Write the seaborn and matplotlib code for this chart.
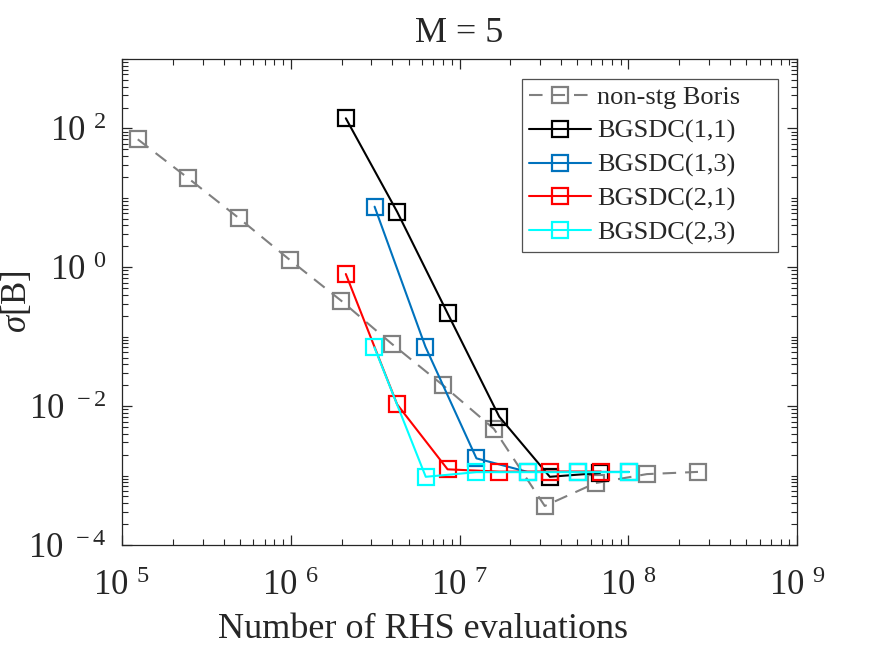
import matplotlib
matplotlib.use("Agg")
import matplotlib.pyplot as plt
import seaborn as sns
import numpy as np
from matplotlib.ticker import LogLocator, FuncFormatter, NullFormatter, FixedLocator

# ---- data ----
boris_x = [1.24e5, 2.46e5, 4.93e5, 9.9e5, 1.99e6, 3.98e6, 7.98e6, 1.6e7, 3.2e7, 6.4e7, 1.29e8, 2.59e8]
boris_y = [69.7, 19.3, 5.1, 1.27, 0.33, 0.0785, 0.020, 0.0047, 3.65e-4, 7.8e-4, 1.05e-3, 1.13e-3]

b11_x = [2.12e6, 4.27e6, 8.5e6, 1.72e7, 3.43e7, 6.8e7]
b11_y = [140.0, 6.3, 0.217, 7.05e-3, 9.6e-4, 1.09e-3]

b13_x = [3.14e6, 6.28e6, 1.26e7, 2.53e7, 5.06e7, 1.01e8]
b13_y = [7.46, 0.0718, 1.77e-3, 1.13e-3, 1.13e-3, 1.13e-3]

b21_x = [2.12e6, 4.27e6, 8.5e6, 1.72e7, 3.43e7, 6.9e7]
b21_y = [0.80, 0.0106, 1.23e-3, 1.14e-3, 1.14e-3, 1.14e-3]

b23_x = [3.13e6, 6.31e6, 1.26e7, 2.53e7, 5.06e7, 1.01e8]
b23_y = [0.0703, 9.6e-4, 1.12e-3, 1.12e-3, 1.12e-3, 1.12e-3]

series_labels = ["non-stg Boris", "BGSDC(1,1)", "BGSDC(1,3)", "BGSDC(2,1)", "BGSDC(2,3)"]
series_colors = ["#808080", "#000000", "#0072BD", "#FF0000", "#00FFFF"]

x_ticks = [1e5, 1e6, 1e7, 1e8, 1e9]
y_ticks = [1e-4, 1e-2, 1e0, 1e2]

# ---- style ----
sns.set_style("ticks")
plt.rcParams["font.family"] = ["Liberation Serif", "DejaVu Serif"]
plt.rcParams["mathtext.fontset"] = "custom"
plt.rcParams["mathtext.rm"] = "Liberation Serif"
plt.rcParams["mathtext.it"] = "Liberation Serif:italic"
plt.rcParams["mathtext.bf"] = "Liberation Serif:bold"

W, H = 875, 657
L, R, T, B = 122, 797, 59, 545
fig = plt.figure(figsize=(W / 100, H / 100), dpi=100)
ax = fig.add_axes([L / W, 1 - B / H, (R - L) / W, (B - T) / H])

data = [(boris_x, boris_y), (b11_x, b11_y), (b13_x, b13_y), (b21_x, b21_y), (b23_x, b23_y)]
for i, ((xs, ys), lab, col) in enumerate(zip(data, series_labels, series_colors)):
    ls = (0, (6.5, 4.3)) if i == 0 else "-"
    sns.lineplot(x=xs, y=ys, ax=ax, color=col, label=lab, linestyle=ls,
                 linewidth=1.5, marker="s", markersize=12,
                 markerfacecolor="none", markeredgecolor=col,
                 markeredgewidth=1.6, estimator=None, sort=False)

ax.set_xscale("log")
ax.set_yscale("log")
ax.set_xlim(1e5, 1e9)
ax.set_ylim(1e-4, 1e3)

def fmt(v, pos):
    e = int(round(np.log10(v)))
    return r"$\mathregular{10^{\,\ %d}}$" % e

ax.xaxis.set_major_locator(FixedLocator(x_ticks))
ax.xaxis.set_minor_locator(LogLocator(base=10, subs=np.arange(2, 10), numticks=50))
ax.xaxis.set_major_formatter(FuncFormatter(fmt))
ax.xaxis.set_minor_formatter(NullFormatter())
ax.yaxis.set_major_locator(FixedLocator(y_ticks))
ax.yaxis.set_minor_locator(LogLocator(base=10, subs=np.arange(1, 10), numticks=50))
ax.yaxis.set_major_formatter(FuncFormatter(fmt))
ax.yaxis.set_minor_formatter(NullFormatter())

ax.tick_params(which="both", direction="in", top=True, right=True, color="#262626")
ax.tick_params(which="major", length=7, width=0.9, labelsize=25)
ax.tick_params(axis="x", which="major", pad=18)
ax.tick_params(axis="y", which="major", pad=11)
ax.tick_params(which="minor", length=4, width=0.8)
for s in ax.spines.values():
    s.set_visible(True)
    s.set_linewidth(0.9)
    s.set_color("#262626")

ax.set_title("M = 5", fontsize=26, pad=12)
ax.set_xlabel("Number of RHS evaluations", fontsize=26)
ax.set_ylabel(r"$\sigma$[B]", fontsize=25)
ax.xaxis.set_label_coords((423 - L) / (R - L), (B - 613) / (B - T))
ax.yaxis.set_label_coords((34 - L) / (R - L), 0.5)

# legend frame placed where the reference shows it
lx0, lx1, ly0 = 522, 778, 79
leg = ax.legend(loc="upper left",
                bbox_to_anchor=((lx0 - L) / (R - L), 0.3,
                                (lx1 - lx0) / (R - L), (B - ly0) / (B - T) - 0.3),
                mode="expand", borderaxespad=0.0,
                fontsize=19, frameon=True, fancybox=False,
                edgecolor="#262626", handlelength=2.35,
                handletextpad=0.23, labelspacing=0.38, borderpad=0.26)
leg.get_frame().set_linewidth(0.9)

fig.savefig("out.png", dpi=100)
